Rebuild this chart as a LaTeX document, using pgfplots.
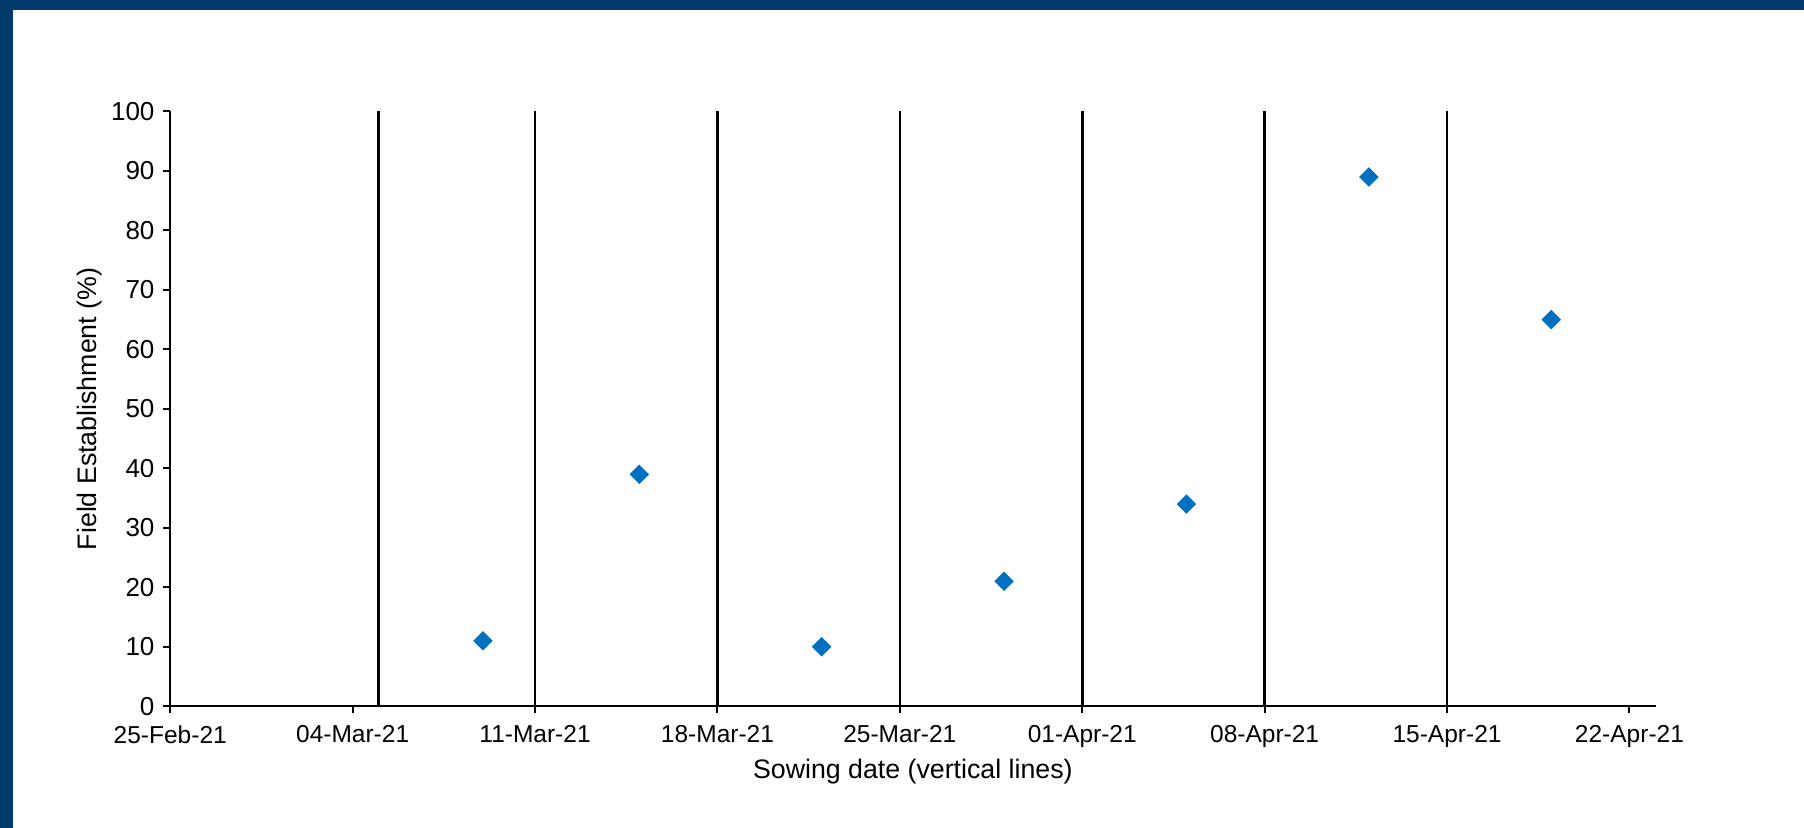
\documentclass[border=0pt]{standalone}
\usepackage{pgfplots}
\pgfplotsset{compat=1.18}
\usepackage{fontspec}
\setmainfont{Liberation Sans}
\definecolor{frameblue}{RGB}{0,58,107}
\definecolor{ptblue}{RGB}{0,112,192}
\begin{document}
\begin{tikzpicture}
\fill[white] (-68.1bp,-48.6bp) rectangle (653.5bp,282.5bp);
\fill[frameblue] (-68.1bp,278.5bp) rectangle (653.5bp,282.5bp);
\fill[frameblue] (-68.1bp,-48.6bp) rectangle (-62.9bp,282.5bp);
\begin{axis}[
  at={(0,0)}, anchor=south west,
  scale only axis, width=594.1bp, height=237.9bp,
  xmin=0, xmax=57, ymin=0, ymax=100,
  axis x line=bottom, axis y line=left,
  axis line style={-, line width=0.8bp, black},
  tick style={black, line width=0.8bp},
  tick align=outside, major tick length=2.8bp,
  xtick={0,7,14,21,28,35,42,49,56},
  xticklabels={25-Feb-21,04-Mar-21,11-Mar-21,18-Mar-21,25-Mar-21,01-Apr-21,08-Apr-21,15-Apr-21,22-Apr-21},
  ytick={0,10,...,100},
  /pgf/number format/assume math mode=true,
  xticklabel style={font=\fontsize{9.8bp}{11bp}\selectfont, yshift=-1.3bp},
  yticklabel style={font=\fontsize{10.4bp}{12bp}\selectfont},
  label style={font=\fontsize{10.7bp}{12.5bp}\selectfont},
  xlabel={Sowing date (vertical lines)},
  ylabel={Field Establishment (\%)},
  xlabel style={at={(axis description cs:0.5,-0.110)}, anchor=center},
  ylabel style={at={(axis description cs:-0.0546,0.5)}, anchor=center},
  clip=false,
]
\addplot[ycomb, black, line width=1bp, mark=none] coordinates {
(8,100) (14,100) (21,100) (28,100) (35,100) (42,100) (49,100)
};
\addplot[only marks, mark=square*, mark size=2.55bp, mark options={rotate=45, fill=ptblue, draw=ptblue}] coordinates {
(12,11) (18,39) (25,10) (32,21) (39,34) (46,89) (53,65)
};
\end{axis}
\end{tikzpicture}
\end{document}
